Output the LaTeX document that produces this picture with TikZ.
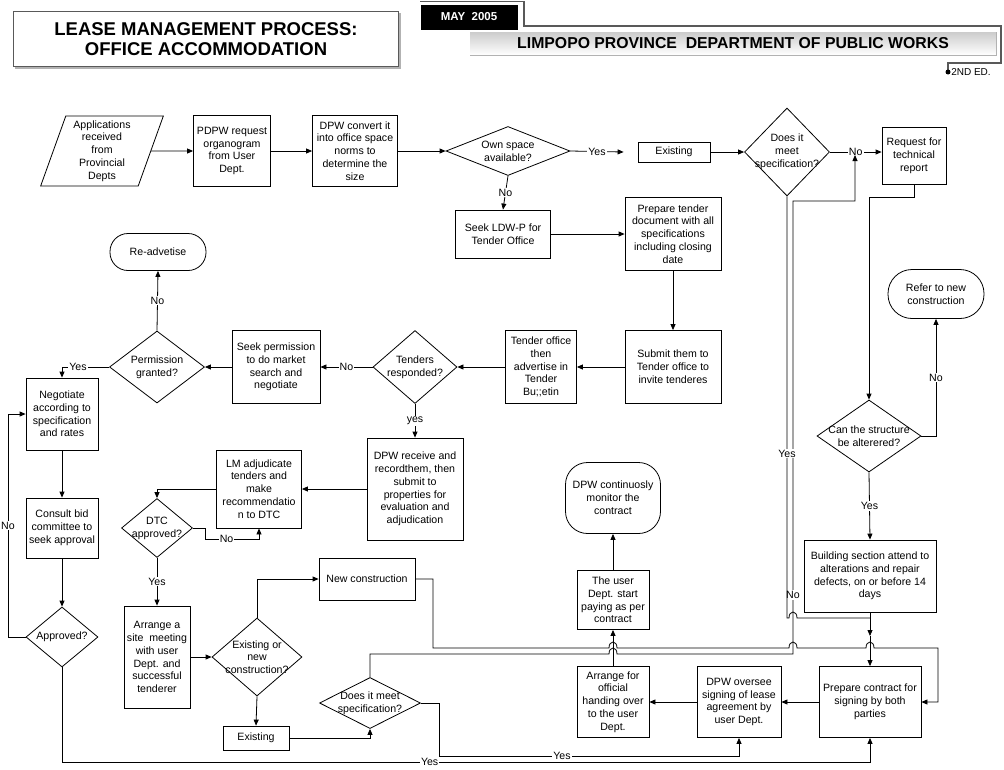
\documentclass[tikz,border=0pt]{standalone}
\usepackage{fontspec}
\setmainfont{Liberation Sans}
\usetikzlibrary{positioning, shapes.geometric, arrows.meta}
% small hop where a connector crosses another one
\newcommand\hop[2]{-- ({#1-4},#2) .. controls ({#1-4},{#2-8}) and ({#1+4},{#2-8}) .. ({#1+4},#2)}
\tikzset{
  box/.style={draw, rectangle, align=center, inner sep=1pt, font=\fontsize{10.6}{12.8}\selectfont},
  dec/.style={draw, diamond, inner sep=0pt},
  txt/.style={align=center, inner sep=0pt, font=\fontsize{10.6}{12.8}\selectfont},
  lbl/.style={fill=white, inner sep=1pt, font=\fontsize{10.6}{12}\selectfont},
  arr/.style={-{Triangle[length=6pt,width=5pt]}},
  sz/.style 2 args={minimum width=#1pt, minimum height=#2pt},
}

\begin{document}
\begin{tikzpicture}[x=1pt, y=-1pt, line width=0.8pt]
\useasboundingbox (0,0) rectangle (1004,769);

% heading
\draw[gray!60, line width=2pt] (16,14) rectangle (400,68);
\node[draw=gray!70!black, fill=white, line width=1pt, sz={385}{55}, align=center,
      font=\bfseries\fontsize{18.5}{20.5}\selectfont] (title) at (206,39)
      {LEASE MANAGEMENT PROCESS:\\OFFICE ACCOMMODATION};
\draw[gray!70!black, line width=1.2pt] (420,1.5) -- (524,1.5) -- (524,26) -- (1001,26)
      -- (1001,63) -- (948,63) -- (948,70);
\fill (948,72) circle (2.5);
\node[fill=black, text=white, sz={97}{25}, font=\bfseries\fontsize{11.5}{13}\selectfont] (may) at (469,17) {MAY~ 2005};
\shade[top color=gray!40, bottom color=white] (470,32) rectangle (996,55);
\draw[gray!60, line width=1pt] (996,32) -- (996,55) -- (470,55);
\node[font=\bfseries\fontsize{15.8}{18}\selectfont] (dept) at (733,43) {LIMPOPO PROVINCE~ DEPARTMENT OF PUBLIC WORKS};
\node[font=\fontsize{10}{11}\selectfont, inner sep=0pt] (ed) at (971,72) {2ND ED.};

% first row
\node[trapezium, trapezium left angle=72, trapezium right angle=108, trapezium stretches=true,
      draw, sz={123}{70}, txt] (app) at (102,151) {Applications\\received\\from\\Provincial\\Depts};
\node[box, sz={77}{71}] (pdpw) at (232,151) {PDPW request\\organogram\\from User\\Dept.};
\node[box, sz={85}{71}] (dpwc) at (355,151) {DPW convert it\\into office space\\norms to\\determine the\\size};
\node[dec, sz={124}{49}, label={[txt]center:Own space\\available?}] (own) at (508,151) {};
\node[box, sz={72}{20}] (ex1) at (674,152) {Existing};
\node[dec, sz={85}{88}, label={[txt]center:Does it\\meet\\specification?}] (spec1) at (787,152) {};
\node[box, sz={64}{57}] (req) at (914,156) {Request for\\technical\\report};

% tender office
\node[box, sz={95}{48}] (seek) at (503,234) {Seek LDW-P for\\Tender Office};
\node[box, sz={96}{73}] (prep) at (673,234) {Prepare tender\\document with all\\specifications\\including closing\\date};
\node[box, sz={96}{73}] (sub) at (673,367) {Submit them to\\Tender office to\\invite tenderes};
\node[box, sz={71}{73}] (toff) at (541,367) {Tender office\\then\\advertise in\\Tender\\Bu;;etin};
\node[dec, sz={84}{73}, label={[txt]center:Tenders\\responded?}] (tresp) at (415,367) {};
\node[box, sz={88}{73}] (sperm) at (276,367) {Seek permission\\to do market\\search and\\negotiate};
\node[dec, sz={95}{72}, label={[txt]center:Permission\\granted?}] (pgr) at (157,367) {};
\node[box, rounded corners=18pt, sz={96}{37}] (readv) at (158,252) {Re-advetise};

% left column
\node[box, sz={72}{72}] (nego) at (62,414) {Negotiate\\according to\\specification\\and rates};
\node[box, sz={72}{60}] (cons) at (62,528) {Consult bid\\committee to\\seek approval};
\node[dec, sz={72}{60}, label={[txt]center:Approved?}] (appr) at (62,637) {};

% adjudication
\node[dec, sz={71}{59}, label={[txt]center:DTC\\approved?}] (dtc) at (157,528) {};
\node[box, sz={85}{78}] (lm) at (259,489) {LM adjudicate\\tenders and\\make\\recommendatio\\n to DTC};
\node[box, sz={96}{102}] (dpwr) at (415,489) {DPW receive and\\recordthem, then\\submit to\\properties for\\evaluation and\\adjudication};
\node[box, sz={66}{102}] (site) at (157,657) {Arrange a\\site~ meeting\\with user\\Dept. and\\successful\\tenderer};
\node[dec, sz={90}{78}, label={[txt]center:Existing or\\new\\construction?}] (eon) at (257,657) {};
\node[box, sz={96}{42}] (newc) at (367,579) {New construction};
\node[box, sz={66}{24}] (ex2) at (256,738) {Existing};
\node[dec, sz={101}{51}, label={[txt]center:Does it meet\\specification?}] (spec2) at (370,703) {};

% right column
\node[dec, sz={104}{72}, label={[txt]center:Can the structure\\be alterered?}] (cst) at (869,436) {};
\node[box, rounded corners=24pt, sz={96}{49}] (refer) at (936,294) {Refer to new\\construction};
\node[box, sz={132}{72}] (bld) at (870,576) {Building section attend to\\alterations and repair\\defects, on or before 14\\days};
\node[box, sz={102}{71}] (prc) at (870,702) {Prepare contract for\\signing by both\\parties};
\node[box, sz={84}{71}] (ovs) at (739,702) {DPW oversee\\signing of lease\\agreement by\\user Dept.};
\node[box, sz={72}{71}] (hand) at (613,702) {Arrange for\\official\\handing over\\to the user\\Dept.};
\node[box, sz={72}{59}] (pay) at (613,600) {The user\\Dept. start\\paying as per\\contract};
\node[box, rounded corners=22pt, sz={95}{71}] (mon) at (613,498) {DPW continuosly\\monitor the\\contract};

% connectors
\draw[arr] (app.east) -- (pdpw.west);
\draw[arr] (pdpw.east) -- (dpwc.west);
\draw[arr] (dpwc.east) -- (own.west);
\draw[arr] (own.east) -- node[lbl]{Yes} ([xshift=-14pt]ex1.west);
\draw[arr] (ex1.east) -- (spec1.west);
\draw[arr] (spec1.east) -- node[lbl]{No} (spec1.east -| req.west);
\draw[arr] (own.south) -- node[lbl]{No} (seek.north);
\draw[arr] (seek.east) -- (prep.west);
\draw[arr] (prep.south) -- (sub.north);
\draw[arr] (sub.west) -- (toff.east);
\draw[arr] (toff.west) -- (tresp.east);
\draw[arr] (tresp.west) -- node[lbl]{No} (sperm.east);
\draw[arr] (sperm.west) -- (pgr.east);
\draw[arr] (pgr.north) -- node[lbl]{No} (readv.south);
\draw[arr] (pgr.west) -| node[lbl, pos=0.33]{Yes} (nego.north);
\draw[arr] (nego.south) -- (cons.north);
\draw[arr] (cons.south) -- (appr.north);
\draw[arr] (appr.west) -- (8,637) -- node[lbl]{No} (8,414) -- (nego.west);
\draw[arr] (appr.south) -- (62,762) -- node[lbl, pos=0.455]{Yes} (870,762) -- (prc.south);
\draw[arr] (tresp.south) -- node[lbl]{yes} (dpwr.north);
\draw[arr] (dpwr.west) -- (lm.east);
\draw[arr] (lm.west) -| (dtc.north);
\draw[arr] (dtc.east) -- (205,528) -- (205,539) -- node[lbl, pos=0.4]{No} (259,539) -- (lm.south);
\draw[arr] (dtc.south) -- node[lbl]{Yes} (site.north);
\draw[arr] (site.east) -- (eon.west);
\draw[arr] (eon.north) |- (newc.west);
\draw[arr] (eon.south) -- (ex2.north);
\draw[arr] (ex2.east) -| (spec2.south);
\draw[arr] (spec2.east) -- (439,703) -- (439,756) -- node[lbl, pos=0.41]{Yes} (739,756) -- (ovs.south);
\draw[arr] (spec2.north) |- (560,654) \hop{613}{654} -- (793,654)
      -- node[lbl, pos=0.13]{No} (793,201) -- (855,201) -- (855,155);
\draw[arr] (newc.east) -- (433,579) -- (433,648) \hop{613}{648} \hop{793}{648} \hop{870}{648}
      -- (938,648) -- (938,702) -- (prc.east);
\draw (spec1.south) -- node[lbl, pos=0.61]{Yes} (787,618) \hop{793}{618} -- (870,618);
\draw[arr] (bld.south) -- (870,636);
\draw[arr] (870,636) -- (prc.north);
\draw[arr] (req.south) -- (914,197) -| (cst.north);
\draw[arr] (cst.east) -| node[lbl, pos=0.75]{No} (refer.south);
\draw[arr] (cst.south) -- node[lbl]{Yes} (bld.north);
\draw[arr] (prc.west) -- (ovs.east);
\draw[arr] (ovs.west) -- (hand.east);
\draw[arr] (hand.north) -- (pay.south);
\draw[arr] (pay.north) -- (mon.south);
\end{tikzpicture}
\end{document}
